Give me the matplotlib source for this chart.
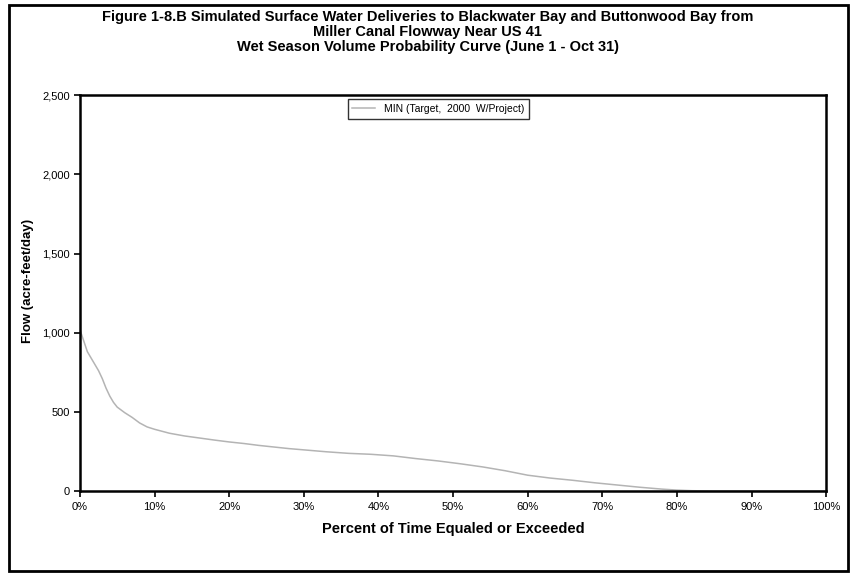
import numpy as np
import matplotlib.pyplot as plt
from matplotlib.patches import Rectangle
from matplotlib.ticker import FuncFormatter

plt.rcParams['font.family'] = ['Liberation Sans', 'DejaVu Sans']

# exceedance curve
pct = [0, 0.5, 1, 1.5, 2, 2.5, 3, 3.5, 4, 4.5, 5, 6, 7, 8, 9, 10, 12, 14, 16, 18,
       20, 22, 24, 26, 28, 30, 33, 36, 39, 42, 45, 48, 51, 54, 57, 60, 63, 66,
       69, 72, 75, 78, 80, 82, 85, 90, 95, 100]
flow = [1020, 950, 880, 840, 800, 760, 710, 650, 600, 560, 530, 495, 465, 430, 405,
        390, 365, 348, 335, 322, 310, 300, 288, 278, 268, 260, 248, 238, 232, 222,
        205, 190, 172, 152, 128, 100, 82, 68, 52, 38, 24, 12, 6, 2, 0, 0, 0, 0]

title = ("Figure 1-8.B Simulated Surface Water Deliveries to Blackwater Bay and Buttonwood Bay from\n"
         "Miller Canal Flowway Near US 41\n"
         "Wet Season Volume Probability Curve (June 1 - Oct 31)")
series_label = "MIN (Target,  2000  W/Project)"

fig = plt.figure(figsize=(8.5, 5.77), dpi=100)
ax = fig.add_axes([0.094, 0.149, 0.878, 0.686])

ax.plot(pct, flow, color='#b4b4b4', linewidth=1.1, label=series_label)

ax.set_xlim(0, 100)
ax.set_ylim(0, 2500)
ax.set_xticks(np.arange(0, 101, 10))
ax.set_yticks(np.arange(0, 2501, 500))
ax.xaxis.set_major_formatter(FuncFormatter(lambda v, p: f"{int(v)}%"))
ax.yaxis.set_major_formatter(FuncFormatter(lambda v, p: f"{int(v):,}"))
ax.tick_params(direction='out', length=4, width=1.2, labelsize=8, colors='black')
ax.tick_params(axis='x', pad=4)
ax.tick_params(axis='y', pad=3)

for s in ax.spines.values():
    s.set_linewidth(1.8)
    s.set_color('black')

ax.set_xlabel("Percent of Time Equaled or Exceeded", fontsize=10.5, fontweight='bold', labelpad=7)
ax.set_ylabel("Flow (acre-feet/day)", fontsize=9.5, fontweight='bold')
ax.yaxis.set_label_coords(-0.062, 0.53)

leg = ax.legend(loc='upper center', bbox_to_anchor=(0.48, 1.003), fontsize=7.5,
                frameon=True, fancybox=False, edgecolor='black', handlelength=2.2,
                borderpad=0.45)
leg.get_frame().set_linewidth(1.0)

fig.text(0.503, 0.983, title, ha='center', va='top', fontsize=10.5,
         fontweight='bold', linespacing=1.1)

# scanned page frame
fig.patches.append(Rectangle((0.01, 0.01), 0.988, 0.982, transform=fig.transFigure,
                             fill=False, edgecolor='black', linewidth=2))

fig.savefig("out.png", dpi=100)
